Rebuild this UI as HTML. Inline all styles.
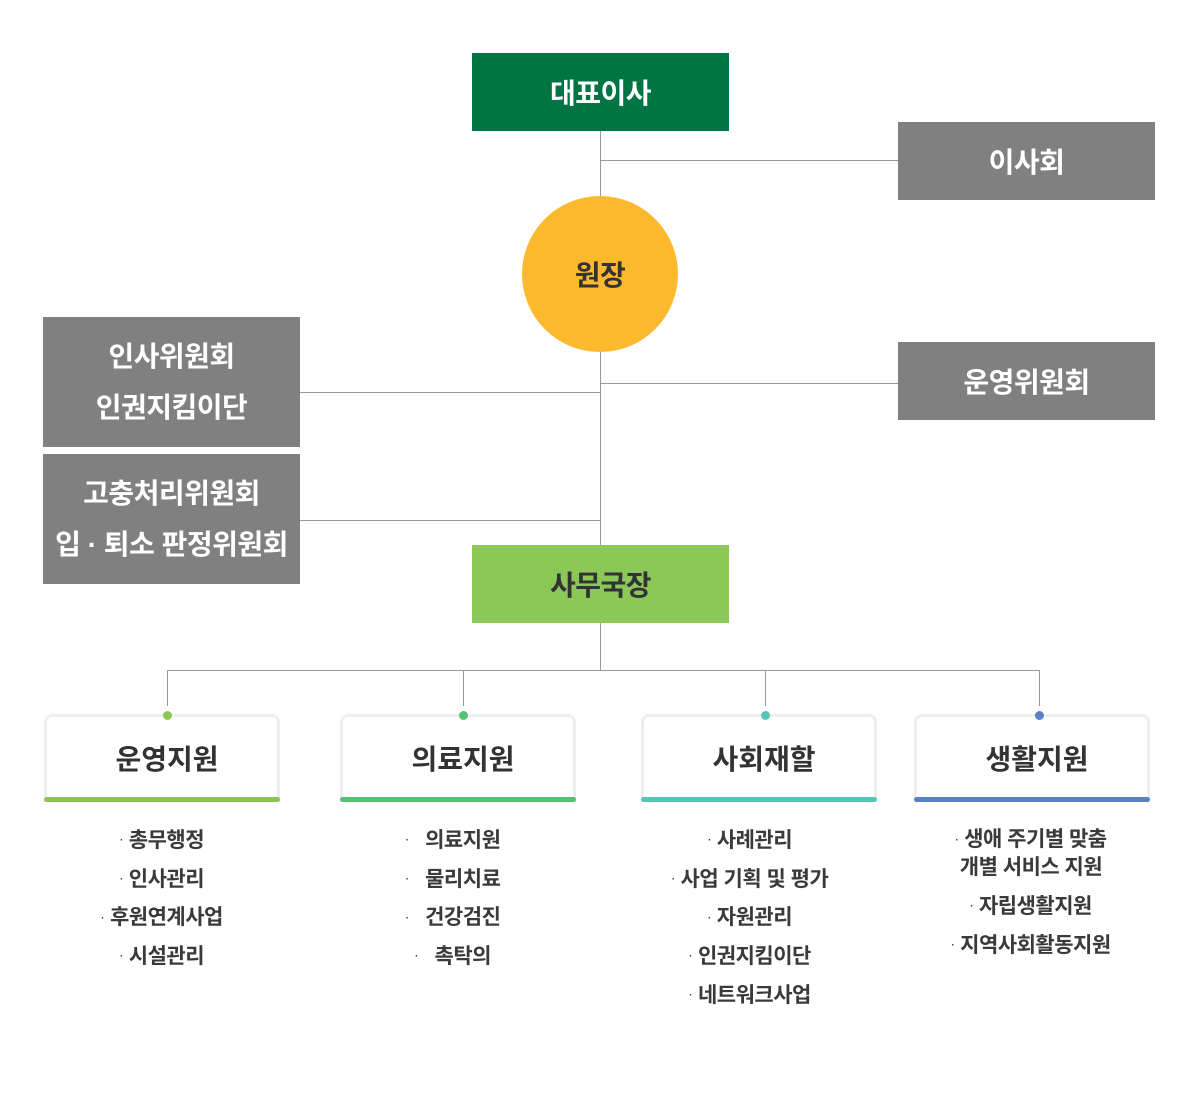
<!DOCTYPE html>
<html><head><meta charset="utf-8"><style>
*{margin:0;padding:0;box-sizing:border-box}
body{width:1200px;height:1100px;background:#fff;position:relative;font-family:"Liberation Sans","Noto Sans CJK KR",sans-serif;font-weight:bold;overflow:hidden}
.l{position:absolute;background:#999}
.b{position:absolute;display:flex;align-items:center;justify-content:center;color:#fff;font-size:28px;text-align:center;letter-spacing:-0.5px}
.card{position:absolute;top:714px;width:236px;height:88px;border:3px solid #eee;border-bottom:none;border-radius:8px 8px 0 0;display:flex;align-items:center;justify-content:center;font-size:28px;color:#333;padding-bottom:4px;padding-left:10px}
.bar{position:absolute;left:-3px;right:-3px;bottom:0;height:5px;border-radius:3px}
.dot{position:absolute;top:-6px;left:50%;width:9px;height:9px;margin-left:0.5px;border-radius:50%;}
.list{position:absolute;top:822px;width:236px;text-align:center;font-size:21px;color:#3a3a3a;line-height:38.5px;letter-spacing:-0.5px}
.list span{font-size:10px;vertical-align:middle;margin-right:6px}
</style></head><body>
<div class="l" style="left:600px;top:131px;width:1px;height:539px"></div>
<div class="l" style="left:601px;top:160px;width:297px;height:1px"></div>
<div class="l" style="left:601px;top:383px;width:297px;height:1px"></div>
<div class="l" style="left:300px;top:392px;width:301px;height:1px"></div>
<div class="l" style="left:300px;top:520px;width:301px;height:1px"></div>
<div class="l" style="left:167px;top:670px;width:873px;height:1px"></div>
<div class="l" style="left:167px;top:670px;width:1px;height:36px"></div>
<div class="l" style="left:463px;top:670px;width:1px;height:36px"></div>
<div class="l" style="left:765px;top:670px;width:1px;height:36px"></div>
<div class="l" style="left:1039px;top:670px;width:1px;height:36px"></div>

<div class="b" style="left:472px;top:53px;width:257px;height:78px;background:#007443">대표이사</div>
<div class="b" style="left:898px;top:122px;width:257px;height:78px;background:#808080">이사회</div>
<div class="b" style="left:522px;top:196px;width:156px;height:156px;border-radius:50%;background:#fdb92d;color:#333">원장</div>
<div class="b" style="left:898px;top:342px;width:257px;height:78px;background:#808080">운영위원회</div>
<div class="b" style="left:43px;top:317px;width:257px;height:130px;background:#808080;line-height:51px">인사위원회<br>인권지킴이단</div>
<div class="b" style="left:43px;top:454px;width:257px;height:130px;background:#808080;line-height:51px;white-space:nowrap">고충처리위원회<br>입 · 퇴소 판정위원회</div>
<div class="b" style="left:472px;top:545px;width:257px;height:78px;background:#8bc857;color:#333">사무국장</div>

<div class="card" style="left:44px">운영지원<div class="dot" style="background:#8bc554"></div><div class="bar" style="background:#8bc554"></div></div>
<div class="card" style="left:340px">의료지원<div class="dot" style="background:#55c172"></div><div class="bar" style="background:#55c172"></div></div>
<div class="card" style="left:641px">사회재할<div class="dot" style="background:#55c4b8;margin-left:1.5px"></div><div class="bar" style="background:#55c4b8"></div></div>
<div class="card" style="left:914px">생활지원<div class="dot" style="background:#5b80c6;margin-left:2.5px"></div><div class="bar" style="background:#5b80c6"></div></div>

<div class="list" style="left:44px"><span>·</span>총무행정<br><span>·</span>인사관리<br><span>·</span>후원연계사업<br><span>·</span>시설관리</div>
<div class="list" style="left:335px"><span>·</span>&nbsp; 의료지원<br><span>·</span>&nbsp; 물리치료<br><span>·</span>&nbsp; 건강검진<br><span>·</span>&nbsp; 촉탁의</div>
<div class="list" style="left:632px"><span>·</span>사례관리<br><span>·</span>사업 기획 및 평가<br><span>·</span>자원관리<br><span>·</span>인권지킴이단<br><span>·</span>네트워크사업</div>
<div class="list" style="left:913px;line-height:27px;top:826px"><span>·</span>생애 주기별 맞춤<br>개별 서비스 지원</div>
<div class="list" style="left:913px;top:888px"><span>·</span>자립생활지원<br><span>·</span>지역사회활동지원</div>
</body></html>
